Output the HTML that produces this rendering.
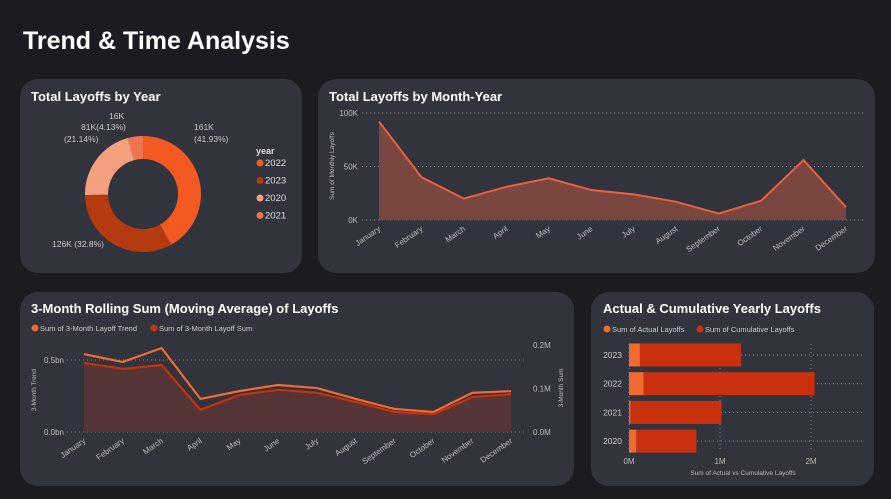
<!DOCTYPE html>
<html><head><meta charset="utf-8"><style>
html,body{margin:0;padding:0;background:#1b1c21;width:891px;height:499px;overflow:hidden}
svg{display:block;font-family:"Liberation Sans","DejaVu Sans",sans-serif}
</style></head><body>
<svg id="s" width="891" height="499" viewBox="0 0 891 499">
<rect width="891" height="499" fill="#1b1c21"/>
<text x="23" y="49" font-size="25" font-weight="bold" fill="#fff">Trend &amp; Time Analysis</text>
<rect x="20" y="79" width="282" height="194" rx="18" fill="#31343c"/>
<rect x="318" y="79" width="557" height="194" rx="18" fill="#31343c"/>
<rect x="20" y="292" width="554" height="194" rx="18" fill="#31343c"/>
<rect x="591" y="292" width="283" height="194" rx="18" fill="#31343c"/>
<text x="31" y="101" font-size="13" font-weight="bold" fill="#fff">Total Layoffs by Year</text>
<text x="329" y="101" font-size="13" font-weight="bold" fill="#fff">Total Layoffs by Month-Year</text>
<text x="31" y="313" font-size="13" font-weight="bold" fill="#fff">3-Month Rolling Sum (Moving Average) of Layoffs</text>
<text x="603" y="313" font-size="13" font-weight="bold" fill="#fff">Actual &amp; Cumulative Yearly Layoffs</text>
<g id="g1"></g><g id="g2"></g><g id="g3"></g><g id="g4"></g>
</svg>
<script>
const years=["2022","2023","2020","2021"];
const yearVals=[161,126,81,16];
const yearLabels=["161K","126K (32.8%)","81K","16K"];
const yearColors=["#f25a22","#b63a10","#f4a07f","#ef7550"];
const months=["January","February","March","April","May","June","July","August","September","October","November","December"];
const monthly=[92,40,20,31,39,28,24,17,6,18,56,12];
const monthTicks=[0,50,100];
const trend=[0.179,0.161,0.193,0.076,0.094,0.108,0.101,0.076,0.053,0.046,0.090,0.094];
const rollSum=[0.159,0.145,0.154,0.051,0.085,0.097,0.090,0.069,0.046,0.041,0.080,0.087];
const rightTicks=[0,0.1,0.2];
const barYears=["2023","2022","2021","2020"];
const actual=[0.12,0.16,0.016,0.081];
const cumulative=[1.11,1.88,1.0,0.66];
const barTicks=[0,1,2];
const NS="http://www.w3.org/2000/svg";
function mk(p,t,a,txt){const e=document.createElementNS(NS,t);for(const k in a)e.setAttribute(k,a[k]);if(txt!=null)e.textContent=txt;p.appendChild(e);return e;}
// donut
const g1=document.getElementById('g1');
const cx=143,cy=194,R=58,r=35;const tot=yearVals.reduce((a,b)=>a+b,0);
let ang=0;
yearVals.forEach((v,i)=>{const a0=ang,a1=ang+v/tot*2*Math.PI;ang=a1;
const p=(rr,a)=>[cx+rr*Math.sin(a),cy-rr*Math.cos(a)];const L=(a1-a0)>Math.PI?1:0;
const [x0,y0]=p(R,a0),[x1,y1]=p(R,a1),[x2,y2]=p(r,a1),[x3,y3]=p(r,a0);
const e=mk(g1,'path',{d:`M${x0},${y0}A${R},${R} 0 ${L} 1 ${x1},${y1}L${x2},${y2}A${r},${r} 0 ${L} 0 ${x3},${y3}Z`,fill:yearColors[i]});


});
[["161K",194,130],["(41.93%)",194,142],["126K (32.8%)",52,247],["81K(4.13%)",81,130],["(21.14%)",64,142],["16K",109,119]].forEach(([t,x,y])=>{const e=mk(g1,'text',{x,y,'font-size':8.5,fill:'#c8c8c8'},t);

});
mk(g1,'text',{x:256,y:154,'font-size':9,'font-weight':'bold',fill:'#ddd'},'year');
years.forEach((y,i)=>{const yy=166+i*17.5;mk(g1,'circle',{cx:260,cy:yy-3,r:3.5,fill:yearColors[i]});
const e=mk(g1,'text',{x:265,y:yy,'font-size':9.5,fill:'#ddd'},y);

});
// monthly area
const g2=document.getElementById('g2');
const mx=i=>379+i*(846-379)/11, my=v=>220-v*(220-113)/100;
monthTicks.forEach(t=>{mk(g2,'line',{x1:362,x2:864,y1:my(t),y2:my(t),stroke:'#888','stroke-dasharray':'1 3'});
const e=mk(g2,'text',{x:358,y:my(t)+3,'font-size':8,fill:'#bbb','text-anchor':'end'},t+'K');

});
let pts=monthly.map((v,i)=>mx(i)+','+my(v)).join(' ');
mk(g2,'polygon',{points:mx(0)+','+my(0)+' '+pts+' '+mx(11)+','+my(0),fill:'#7a4640'});
const l2=mk(g2,'polyline',{points:pts,fill:'none',stroke:'#e8603f','stroke-width':2});


months.forEach((m,i)=>{const e=mk(g2,'text',{x:mx(i)+2,y:230,'font-size':8,fill:'#bbb','text-anchor':'end',transform:`rotate(-35 ${mx(i)+2} 230)`},m);

});
const yt=mk(g2,'text',{x:334,y:166,'font-size':6.5,fill:'#bbb','text-anchor':'middle',transform:'rotate(-90 334 166)'},'Sum of Monthly Layoffs');


// rolling
const g3=document.getElementById('g3');
const rx=i=>84+i*(511-84)/11, ry=v=>432-v*(432-345)/0.2;
mk(g3,'circle',{cx:35,cy:328,r:3.5,fill:'#f06a32'});
mk(g3,'text',{x:40,y:331,'font-size':7.5,fill:'#ccc'},'Sum of 3-Month Layoff Trend');
mk(g3,'circle',{cx:154,cy:328,r:3.5,fill:'#c8300e'});
mk(g3,'text',{x:159,y:331,'font-size':7.5,fill:'#ccc'},'Sum of 3-Month Layoff Sum');
mk(g3,'line',{x1:67,x2:525,y1:360,y2:360,stroke:'#888','stroke-dasharray':'1 3'});
mk(g3,'line',{x1:67,x2:525,y1:432,y2:432,stroke:'#888','stroke-dasharray':'1 3'});
mk(g3,'text',{x:64,y:363,'font-size':8,fill:'#bbb','text-anchor':'end'},'0.5bn');
mk(g3,'text',{x:64,y:435,'font-size':8,fill:'#bbb','text-anchor':'end'},'0.0bn');
rightTicks.forEach(t=>{const e=mk(g3,'text',{x:533,y:ry(t)+3,'font-size':8,fill:'#bbb'},t.toFixed(1)+'M');

});
mk(g3,'text',{x:36,y:390,'font-size':6.5,fill:'#bbb','text-anchor':'middle',transform:'rotate(-90 36 390)'},'3-Month Trend');
mk(g3,'text',{x:563,y:388,'font-size':6.5,fill:'#bbb','text-anchor':'middle',transform:'rotate(-90 563 388)'},'3-Month Sum');
const tp=trend.map((v,i)=>rx(i)+','+ry(v)).join(' ');
const sp=rollSum.map((v,i)=>rx(i)+','+ry(v)).join(' ');
mk(g3,'polygon',{points:rx(0)+','+ry(0)+' '+sp+' '+rx(11)+','+ry(0),fill:'#553535'});
const l3=mk(g3,'polyline',{points:tp,fill:'none',stroke:'#f06a32','stroke-width':2.2});


const l4=mk(g3,'polyline',{points:sp,fill:'none',stroke:'#c8300e','stroke-width':2.2});


months.forEach((m,i)=>{const e=mk(g3,'text',{x:rx(i)+2,y:442,'font-size':8,fill:'#bbb','text-anchor':'end',transform:`rotate(-35 ${rx(i)+2} 442)`},m);

});
// bars
const g4=document.getElementById('g4');
const bx=v=>629+v*91, by=i=>355+i*28.7;
mk(g4,'circle',{cx:607,cy:329,r:3.5,fill:'#f06a32'});
mk(g4,'text',{x:612,y:332,'font-size':7.5,fill:'#ccc'},'Sum of Actual Layoffs');
mk(g4,'circle',{cx:700,cy:329,r:3.5,fill:'#c8300e'});
mk(g4,'text',{x:705,y:332,'font-size':7.5,fill:'#ccc'},'Sum of Cumulative Layoffs');
barTicks.forEach(t=>{mk(g4,'line',{x1:bx(t),x2:bx(t),y1:344,y2:452,stroke:'#888','stroke-dasharray':'1 3'});
const e=mk(g4,'text',{x:bx(t),y:464,'font-size':8,fill:'#bbb','text-anchor':'middle'},t+'M');

});
barYears.forEach((y,i)=>{const c=by(i);
mk(g4,'line',{x1:629,x2:863,y1:c,y2:c,stroke:'#888','stroke-dasharray':'1 3'});
const a=mk(g4,'rect',{x:bx(0),y:c-11.5,width:bx(actual[i])-bx(0),height:23,fill:'#f06a32'});


const b=mk(g4,'rect',{x:bx(actual[i]),y:c-11.5,width:bx(actual[i]+cumulative[i])-bx(actual[i]),height:23,fill:'#c8300e'});


mk(g4,'text',{x:622,y:c+3,'font-size':8.5,fill:'#ccc','text-anchor':'end'},y);});
mk(g4,'text',{x:743,y:475,'font-size':6.5,fill:'#bbb','text-anchor':'middle'},'Sum of Actual vs Cumulative Layoffs');
</script>
</body></html>
